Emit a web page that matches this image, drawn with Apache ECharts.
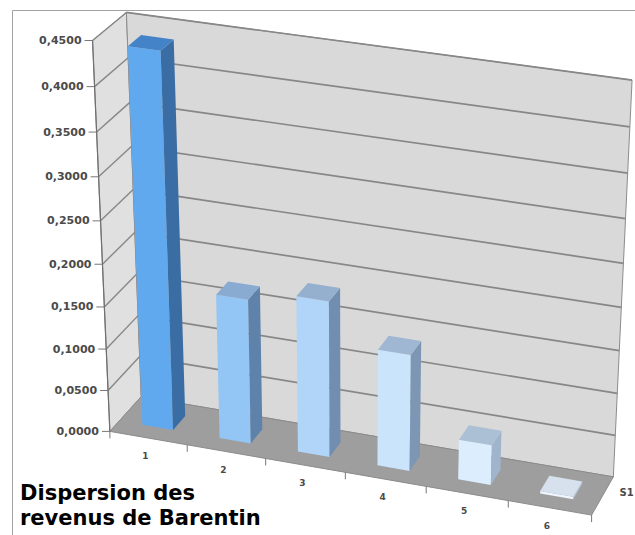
<!DOCTYPE html>
<html>
<head>
<meta charset="utf-8">
<script src="https://cdn.jsdelivr.net/npm/echarts@6/dist/echarts.min.js"></script>
<style>
  html, body { margin: 0; padding: 0; background: #ffffff; }
  #chart { width: 635px; height: 535px; }
</style>
</head>
<body>
<div id="chart"></div>
<script>
// ---- data ----
const categories = ['1', '2', '3', '4', '5', '6'];
const dispersion = [0.438, 0.172, 0.185, 0.138, 0.0475, 0.003];
const valueTicks = [0, 0.05, 0.10, 0.15, 0.20, 0.25, 0.30, 0.35, 0.40, 0.45];
const tickLabels = ['0,0000', '0,0500', '0,1000', '0,1500', '0,2000', '0,2500', '0,3000', '0,3500', '0,4000', '0,4500'];
const seriesName = 'S1';
const titleLines = ['Dispersion des', 'revenus de Barentin'];

// ---- styling ----
const BAR_COLORS = [
  { front: '#60a9ef', side: '#3a6da3', top: '#4583c8' },
  { front: '#93c5f5', side: '#5f82ab', top: '#89aad1' },
  { front: '#b1d5f8', side: '#718db0', top: '#95b0cf' },
  { front: '#c9e4fb', side: '#7c96b4', top: '#9fb7d3' },
  { front: '#dceefd', side: '#a0b4cc', top: '#abbfd5' },
  { front: '#eef5fd', side: '#b4c4d6', top: '#d6e1ed' }
];
const BAR_WIDTH = 0.4;          // share of a category band
const BAR_DEPTH = [0.3, 0.7];   // depth slab occupied by the bars
const WALL_LEFT = '#e0e0e0';
const WALL_BACK = '#d9d9d9';
const FLOOR = '#9e9e9e';
const EDGE = '#8c8c8c';
const GRID_LINE = '#878787';
const TEXT = '#4a4a4a';

// Screen placement of the unit plot box corners (u across, w up, z into depth).
const BOX_CORNERS = [
  [[0, 0, 0], [110, 431]],
  [[0, 1, 0], [92, 41]],
  [[0, 1, 1], [127, 12]],
  [[1, 1, 1], [632, 80]],
  [[1, 0, 1], [613, 477]],
  [[1, 0, 0], [592, 515]],
  [[0, 0, 1], [141, 397]]
];

// Least-squares 3x4 perspective camera (last entry fixed to 1).
function solveProjection(pairs) {
  const rows = [], rhs = [];
  pairs.forEach(([[X, Y, Z], [u, v]]) => {
    rows.push([X, Y, Z, 1, 0, 0, 0, 0, -u * X, -u * Y, -u * Z]); rhs.push(u);
    rows.push([0, 0, 0, 0, X, Y, Z, 1, -v * X, -v * Y, -v * Z]); rhs.push(v);
  });
  const n = 11;
  const M = Array.from({ length: n }, () => new Array(n + 1).fill(0));
  rows.forEach((r, k) => {
    for (let i = 0; i < n; i++) {
      for (let j = 0; j < n; j++) M[i][j] += r[i] * r[j];
      M[i][n] += r[i] * rhs[k];
    }
  });
  for (let c = 0; c < n; c++) {
    let p = c;
    for (let r = c + 1; r < n; r++) if (Math.abs(M[r][c]) > Math.abs(M[p][c])) p = r;
    [M[c], M[p]] = [M[p], M[c]];
    for (let r = 0; r < n; r++) {
      if (r === c) continue;
      const f = M[r][c] / M[c][c];
      for (let k = c; k <= n; k++) M[r][k] -= f * M[c][k];
    }
  }
  return M.map((row, i) => row[n] / row[i]);
}
const CAM = solveProjection(BOX_CORNERS);
function P(u, w, z) {
  const d = CAM[8] * u + CAM[9] * w + CAM[10] * z + 1;
  return [(CAM[0] * u + CAM[1] * w + CAM[2] * z + CAM[3]) / d,
          (CAM[4] * u + CAM[5] * w + CAM[6] * z + CAM[7]) / d];
}
// grid pixel -> unit box coordinates
function toU(cs, px) { return (px - cs.x) / cs.width; }
function toW(cs, py) { return (cs.y + cs.height - py) / cs.height; }

function poly(points, fill, stroke, lw) {
  return { type: 'polygon', shape: { points }, style: { fill: fill || 'none', stroke: stroke || null, lineWidth: lw || 0 } };
}
function seg(a, b, stroke, lw) {
  return { type: 'line', shape: { x1: a[0], y1: a[1], x2: b[0], y2: b[1] }, style: { stroke, lineWidth: lw } };
}

// walls + floor
function renderBox(params, api) {
  return {
    type: 'group',
    children: [
      poly([P(0, 0, 0), P(0, 1, 0), P(0, 1, 1), P(0, 0, 1)], WALL_LEFT, EDGE, 1),
      poly([P(0, 0, 1), P(0, 1, 1), P(1, 1, 1), P(1, 0, 1)], WALL_BACK, EDGE, 1),
      poly([P(0, 0, 0), P(1, 0, 0), P(1, 0, 1), P(0, 0, 1)], FLOOR, EDGE, 1)
    ]
  };
}

// value gridlines on the side and back walls
function renderGrid(params, api) {
  const cs = params.coordSys;
  const w = toW(cs, api.coord([0, api.value(1)])[1]);
  if (w <= 0.0001) return null;
  return {
    type: 'group',
    children: [
      seg(P(0, w, 0), P(0, w, 1), GRID_LINE, 1.4),
      seg(P(0, w, 1), P(1, w, 1), GRID_LINE, 1.7)
    ]
  };
}

// value axis: line, ticks, labels
function renderValueAxis(params, api) {
  const cs = params.coordSys;
  const w = toW(cs, api.coord([0, api.value(1)])[1]);
  const p = P(0, w, 0);
  const children = [
    seg([p[0] - 8, p[1]], p, '#777777', 1),
    {
      type: 'text', x: p[0] - 11, y: p[1],
      style: {
        text: tickLabels[params.dataIndex], fill: TEXT, align: 'right', verticalAlign: 'middle',
        fontSize: 11, fontWeight: 'bold', fontFamily: 'DejaVu Sans'
      }
    }
  ];
  if (params.dataIndex === 0) children.push(seg(P(0, 0, 0), P(0, 1, 0), '#6f6f6f', 1.2));
  return { type: 'group', children };
}

// category axis: ticks and labels along the front edge
function renderCategoryAxis(params, api) {
  const cs = params.coordSys;
  const i = api.value(0);
  const c = api.coord([i, 0]);
  const band = api.size([1, 0])[0];
  const uc = toU(cs, c[0]);
  const uL = toU(cs, c[0] - band / 2);
  const uR = toU(cs, c[0] + band / 2);
  const pc = P(uc, 0, 0);
  const children = [];
  const a = P(uL, 0, 0);
  children.push(seg(a, [a[0], a[1] + 7], '#777777', 1));
  if (params.dataIndex === categories.length - 1) {
    const b = P(uR, 0, 0);
    children.push(seg(b, [b[0], b[1] + 7], '#777777', 1));
    const s = P(1, 0, 0.5);
    children.push({
      type: 'text', x: s[0] + 17, y: s[1] - 3,
      style: { text: seriesName, fill: TEXT, align: 'left', verticalAlign: 'middle',
               fontSize: 10, fontWeight: 'bold', fontFamily: 'DejaVu Sans' }
    });
  }
  children.push({
    type: 'text', x: pc[0] - 3, y: pc[1] + 18,
    style: { text: categories[params.dataIndex], fill: TEXT, align: 'center', verticalAlign: 'middle',
             fontSize: 9, fontWeight: 'bold', fontFamily: 'DejaVu Sans' }
  });
  return { type: 'group', children };
}

// 3-D columns
function renderBar(params, api) {
  const cs = params.coordSys;
  const i = api.value(0);
  const base = api.coord([i, 0]);
  const top = api.coord([i, api.value(1)]);
  const half = api.size([1, 0])[0] * BAR_WIDTH / 2;
  const u0 = toU(cs, base[0] - half), u1 = toU(cs, base[0] + half);
  const w1 = toW(cs, top[1]);
  const z0 = BAR_DEPTH[0], z1 = BAR_DEPTH[1];
  const col = BAR_COLORS[params.dataIndex];
  return {
    type: 'group',
    children: [
      poly([P(u0, 0, z0), P(u1, 0, z0), P(u1, w1, z0), P(u0, w1, z0)], col.front),
      poly([P(u1, 0, z0), P(u1, 0, z1), P(u1, w1, z1), P(u1, w1, z0)], col.side),
      poly([P(u0, w1, z0), P(u1, w1, z0), P(u1, w1, z1), P(u0, w1, z1)], col.top)
    ]
  };
}

const chart = echarts.init(document.getElementById('chart'), null, { renderer: 'svg', width: 635, height: 535 });
chart.setOption({
  animation: false,
  backgroundColor: '#ffffff',
  grid: { left: 0, top: 0, width: 600, height: 450, show: false },
  xAxis: { type: 'category', data: categories, show: false },
  yAxis: { type: 'value', min: 0, max: 0.45, interval: 0.05, show: false },
  graphic: [
    { type: 'rect', shape: { x: 12.5, y: 10.5, width: 700, height: 700 },
      style: { fill: 'none', stroke: '#a3a3a3', lineWidth: 1 }, z: 0 },
    { type: 'text', x: 20, y: 480, z: 10,
      style: { text: titleLines.join('\n'), fill: '#000000', fontSize: 21, lineHeight: 25,
               fontWeight: 'bold', fontFamily: 'DejaVu Sans', align: 'left', verticalAlign: 'top' } }
  ],
  series: [
    { type: 'custom', z: 1, renderItem: renderBox, data: [[0, 0]], silent: true },
    { type: 'custom', z: 2, renderItem: renderGrid, data: valueTicks.map(v => [0, v]), silent: true },
    { type: 'custom', z: 3, renderItem: renderValueAxis, data: valueTicks.map(v => [0, v]), silent: true },
    { type: 'custom', z: 3, renderItem: renderCategoryAxis, data: categories.map((c, i) => [i, 0]), silent: true },
    { type: 'custom', z: 4, name: seriesName, renderItem: renderBar, data: dispersion.map((v, i) => [i, v]) }
  ]
});
</script>
</body>
</html>
